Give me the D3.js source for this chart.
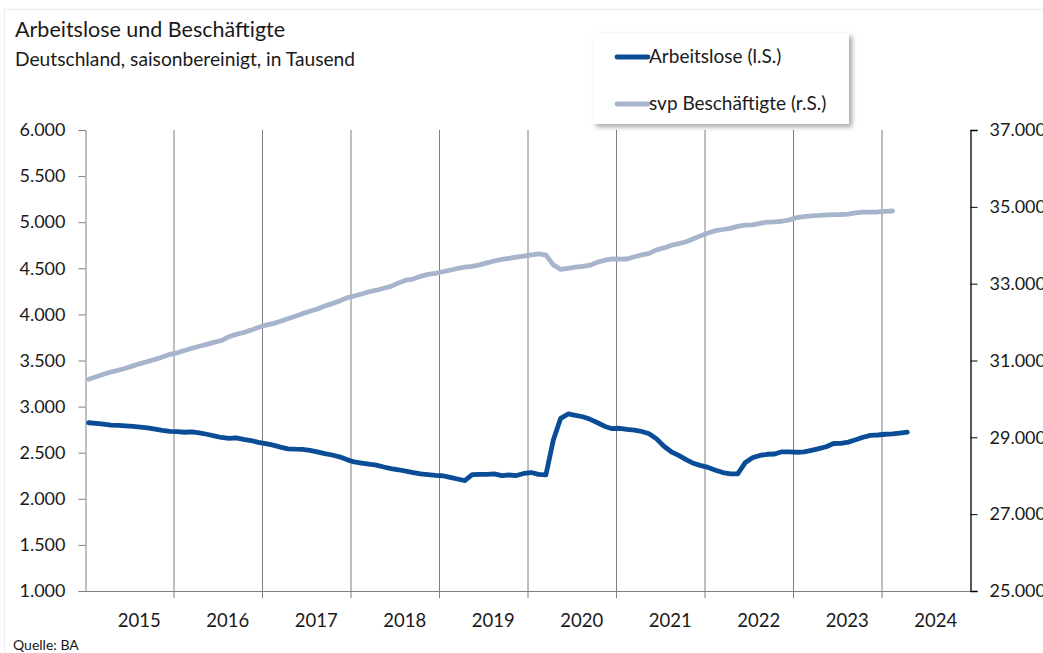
<!DOCTYPE html>
<html><head><meta charset="utf-8">
<script src="https://cdn.jsdelivr.net/npm/d3@7"></script>
<style>
body{margin:0;background:#fff;}
svg{font-family:Lato, "Open Sans", sans-serif;}
</style></head>
<body>
<svg id="chart" width="1043" height="653"></svg>
<script>
// Monthly data, Jan 2015 onwards (Tausend)
const years = ["2015","2016","2017","2018","2019","2020","2021","2022","2023","2024"];
const arbeitslose = [
 2825,2818,2810,2800,2796,2790,2785,2778,2770,2755,2742,2732,
 2728,2722,2726,2715,2700,2683,2665,2655,2660,2645,2632,2612,
 2598,2582,2560,2542,2538,2537,2525,2508,2490,2475,2455,2425,
 2400,2388,2375,2365,2345,2328,2315,2300,2285,2270,2262,2255,
 2250,2232,2215,2198,2262,2265,2266,2270,2252,2258,2252,2275,
 2285,2265,2260,2638,2873,2920,2905,2890,2862,2825,2785,2760,
 2765,2753,2745,2730,2705,2650,2570,2510,2470,2425,2385,2360,
 2340,2310,2285,2270,2270,2390,2445,2470,2483,2486,2510,2508,
 2505,2510,2525,2545,2565,2600,2602,2615,2640,2668,2688,2692,
 2700,2705,2713,2722
];
const beschaeftigte = [
 30510,30575,30640,30700,30745,30800,30860,30920,30975,31030,31090,31160,
 31200,31260,31320,31370,31420,31470,31520,31620,31680,31730,31790,31860,
 31920,31960,32020,32085,32150,32220,32280,32340,32420,32480,32550,32630,
 32680,32730,32790,32830,32880,32930,33020,33090,33120,33190,33240,33270,
 33310,33350,33395,33430,33450,33490,33540,33590,33630,33660,33690,33720,
 33750,33775,33745,33490,33370,33400,33430,33450,33480,33560,33610,33645,
 33640,33642,33700,33750,33790,33880,33930,34000,34040,34090,34170,34250,
 34320,34380,34410,34440,34490,34525,34530,34570,34600,34610,34625,34660,
 34720,34745,34765,34775,34790,34795,34800,34812,34840,34860,34862,34866,
 34880,34892
];
const leftTicks = [1000,1500,2000,2500,3000,3500,4000,4500,5000,5500,6000];
const rightTicks = [25000,27000,29000,31000,33000,35000,37000];
const seriesNames = ["Arbeitslose (l.S.)","svp Beschäftigte (r.S.)"];
const colors = ["#0a4c95","#a7b5cc"];

const months = d3.range(years.length*12);
const svg = d3.select("#chart");
const M = {l:85, r:970, t:130, b:591};

const x = d3.scaleBand().domain(months).range([M.l, M.r]).padding(0);
const yL = d3.scaleLinear().domain([1000,6000]).range([M.b, M.t]);
const yR = d3.scaleLinear().domain([25000,37000]).range([M.b, M.t]);
const fmt = v => d3.format(",")(v).replace(/,/g,".");
const FONT = "Lato, 'Open Sans', sans-serif";
const TXT = "#1a1a1a";

// faint outer border
svg.append("rect").attr("x",4.5).attr("y",9.5).attr("width",1060).attr("height",660)
  .attr("fill","none").attr("stroke","#ececec");

// Titles
svg.append("text").attr("x",15).attr("y",37).attr("font-size",21.5).attr("fill",TXT)
  .text("Arbeitslose und Beschäftigte");
svg.append("text").attr("x",15).attr("y",66).attr("font-size",19.2).attr("fill",TXT)
  .text("Deutschland, saisonbereinigt, in Tausend");

// vertical year gridlines
const yearStarts = months.filter(m => m % 12 === 0 && m>0);
svg.append("g").selectAll("line").data(yearStarts).join("line")
  .attr("x1", d=>x(d)+0.5).attr("x2", d=>x(d)+0.5)
  .attr("y1", M.t).attr("y2", M.b+7)
  .attr("stroke","#7f7f7f").attr("stroke-width",1);

// Left axis
const gL = svg.append("g").attr("transform",`translate(${M.l+0.5},0)`)
  .call(d3.axisLeft(yL).tickValues(leftTicks).tickFormat(fmt).tickSize(7).tickPadding(13));
gL.select(".domain").attr("stroke","#7f7f7f");
gL.selectAll(".tick line").attr("stroke","#7f7f7f");
gL.selectAll("text").attr("font-size",18).attr("fill",TXT).attr("font-family",FONT);

// Right axis
const gR = svg.append("g").attr("transform",`translate(${M.r+0.5},0)`)
  .call(d3.axisRight(yR).tickValues(rightTicks).tickFormat(fmt).tickSize(7).tickPadding(12));
gR.select(".domain").attr("stroke","#000").attr("stroke-width",1.3);
gR.selectAll(".tick line").attr("stroke","#000");
gR.selectAll("text").attr("font-size",18).attr("fill",TXT).attr("font-family",FONT);

// Bottom axis
const gB = svg.append("g").attr("transform",`translate(0,${M.b+0.5})`);
gB.append("line").attr("x1",M.l).attr("x2",M.r).attr("stroke","#7f7f7f");
gB.selectAll("text").data(years).join("text")
  .attr("x",(d,i)=>x(i*12+6)+10).attr("y",35)
  .attr("text-anchor","middle").attr("font-size",18.5).attr("fill",TXT)
  .text(d=>d);

// Lines
const lineL = d3.line().x((d,i)=>x(i)+x.bandwidth()/2).y(d=>yL(d));
const lineR = d3.line().x((d,i)=>x(i)+x.bandwidth()/2).y(d=>yR(d));
svg.append("path").datum(beschaeftigte).attr("d",lineR).attr("fill","none")
  .attr("stroke",colors[1]).attr("stroke-width",4.8).attr("stroke-linejoin","round").attr("stroke-linecap","round");
svg.append("path").datum(arbeitslose).attr("d",lineL).attr("fill","none")
  .attr("stroke",colors[0]).attr("stroke-width",4.8).attr("stroke-linejoin","round").attr("stroke-linecap","round");

// Legend
const defs = svg.append("defs");
const f = defs.append("filter").attr("id","sh").attr("x","-10%").attr("y","-10%").attr("width","130%").attr("height","140%");
f.append("feDropShadow").attr("dx",3).attr("dy",3).attr("stdDeviation",2.5).attr("flood-color","#000").attr("flood-opacity",0.35);
const lg = svg.append("g");
lg.append("rect").attr("x",593).attr("y",33).attr("width",256).attr("height",91)
  .attr("fill","#fff").attr("filter","url(#sh)");
seriesNames.forEach((n,i)=>{
  const yy = 57 + i*47;
  lg.append("line").attr("x1",617).attr("x2",648).attr("y1",yy).attr("y2",yy)
    .attr("stroke",colors[i]).attr("stroke-width",4.8).attr("stroke-linecap","round");
  lg.append("text").attr("x",649).attr("y",yy+6).attr("font-size",19).attr("fill",TXT).text(n);
});

// Source
svg.append("text").attr("x",13).attr("y",650).attr("font-size",14).attr("fill",TXT).text("Quelle: BA");
</script>
</body></html>
